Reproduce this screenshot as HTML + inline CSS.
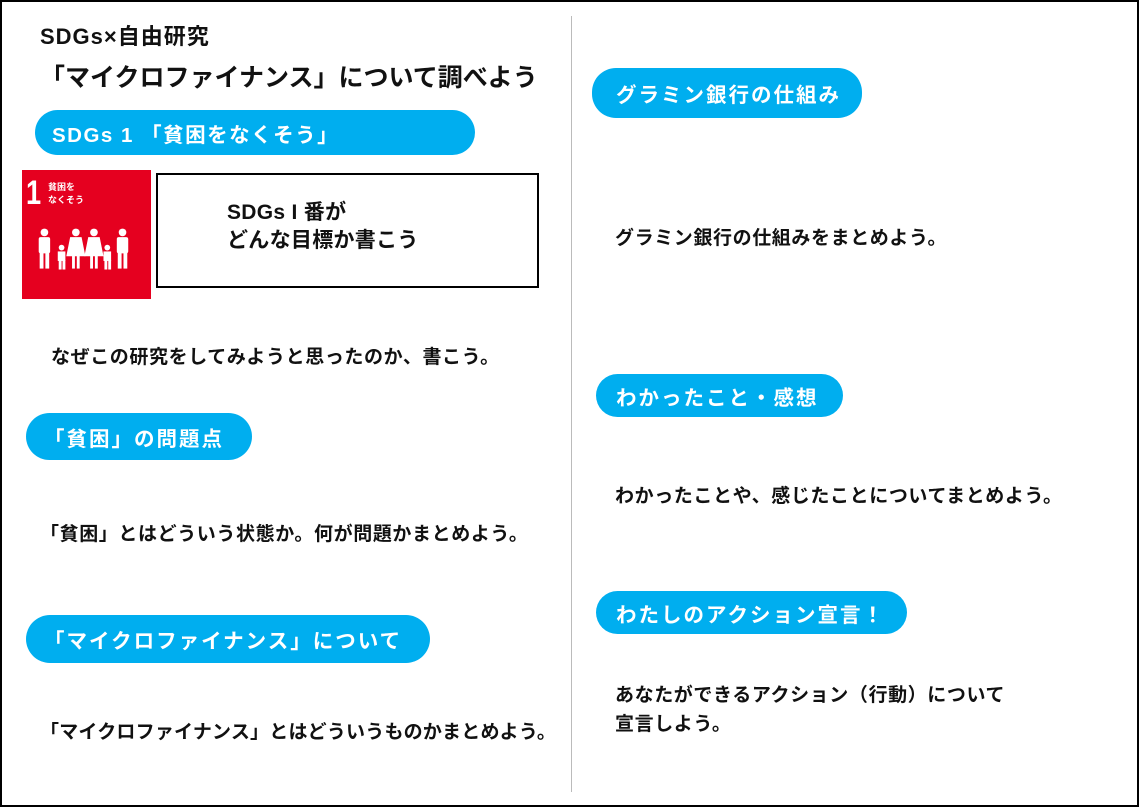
<!DOCTYPE html>
<html><head><meta charset="utf-8"><style>
body{margin:0;width:1139px;height:807px;position:relative;background:#fff;font-family:"Liberation Sans","Noto Sans CJK JP",sans-serif;font-weight:bold;color:#111;overflow:hidden}
.frame{position:absolute;left:0;top:0;width:1135px;height:803px;border:2px solid #000}
.a{position:absolute;white-space:nowrap}
.pill{position:absolute;background:#00aeef;color:#fff;border-radius:24px;font-size:20.5px;box-sizing:border-box;padding-left:24px;display:flex;align-items:center;letter-spacing:2px}
.t{position:absolute;font-size:19px;letter-spacing:0.6px;white-space:nowrap;line-height:29px}
</style></head><body>
<div class="frame"></div>
<div class="a" style="left:571px;top:16px;width:1px;height:776px;background:#bbb"></div>
<div class="a" style="left:40px;top:19px;font-size:22px;letter-spacing:1px">SDGs×自由研究</div>
<div class="a" style="left:40px;top:58px;font-size:25px">「マイクロファイナンス」について調べよう</div>
<div class="pill" style="left:35px;top:110px;width:440px;height:45px;padding-left:17px;letter-spacing:1.5px">SDGs 1 「貧困をなくそう」</div>
<div class="a" style="left:22px;top:170px;width:129px;height:129px;background:#e5001f"></div>
<div class="a" style="left:26px;top:174px;color:#fff;font-size:34px;transform:scaleX(0.8);transform-origin:left">1</div>
<div class="a" style="left:48px;top:181px;color:#fff;font-size:9px;line-height:13px">貧困を<br>なくそう</div>
<svg class="a" style="left:33px;top:227px" width="100" height="46" viewBox="0 0 105 45" fill="#fff">
<circle cx="12" cy="4" r="4"/><rect x="6" y="9" width="12" height="17" rx="2"/><rect x="7" y="24" width="4" height="18"/><rect x="13" y="24" width="4" height="18"/>
<circle cx="30" cy="20" r="3"/><rect x="26" y="24" width="8" height="10"/><rect x="27" y="33" width="3" height="10"/><rect x="31" y="33" width="3" height="10"/>
<circle cx="45" cy="4" r="4"/><path d="M39 9h12l4 20h-20z"/><rect x="41" y="27" width="3" height="15"/><rect x="46" y="27" width="3" height="15"/>
<circle cx="64" cy="4" r="4"/><path d="M58 9h12l4 20h-20z"/><rect x="60" y="27" width="3" height="15"/><rect x="65" y="27" width="3" height="15"/>
<circle cx="78" cy="20" r="3"/><rect x="74" y="24" width="8" height="10"/><rect x="75" y="33" width="3" height="10"/><rect x="79" y="33" width="3" height="10"/>
<circle cx="94" cy="4" r="4"/><rect x="88" y="9" width="12" height="17" rx="2"/><rect x="89" y="24" width="4" height="18"/><rect x="95" y="24" width="4" height="18"/>
</svg>
<div class="a" style="left:156px;top:173px;width:379px;height:111px;border:2px solid #000"></div>
<div class="t" style="left:227px;top:199px;font-size:21px;line-height:28px;letter-spacing:0.3px">SDGs I 番が<br>どんな目標か書こう</div>
<div class="t" style="left:51px;top:343px">なぜこの研究をしてみようと思ったのか、書こう。</div>
<div class="pill" style="left:26px;top:413px;width:226px;height:47px;padding-left:18px">「貧困」の問題点</div>
<div class="t" style="left:40px;top:520px">「貧困」とはどういう状態か。何が問題かまとめよう。</div>
<div class="pill" style="left:26px;top:615px;width:404px;height:48px;padding-left:18px">「マイクロファイナンス」について</div>
<div class="t" style="left:40px;top:718px;letter-spacing:0.2px">「マイクロファイナンス」とはどういうものかまとめよう。</div>
<div class="pill" style="left:592px;top:68px;width:270px;height:50px">グラミン銀行の仕組み</div>
<div class="t" style="left:615px;top:224px">グラミン銀行の仕組みをまとめよう。</div>
<div class="pill" style="left:596px;top:374px;width:247px;height:43px;padding-left:20px">わかったこと・感想</div>
<div class="t" style="left:615px;top:482px">わかったことや、感じたことについてまとめよう。</div>
<div class="pill" style="left:596px;top:591px;width:311px;height:43px;padding-left:20px">わたしのアクション宣言！</div>
<div class="t" style="left:615px;top:681px">あなたができるアクション（行動）について<br>宣言しよう。</div>
</body></html>
